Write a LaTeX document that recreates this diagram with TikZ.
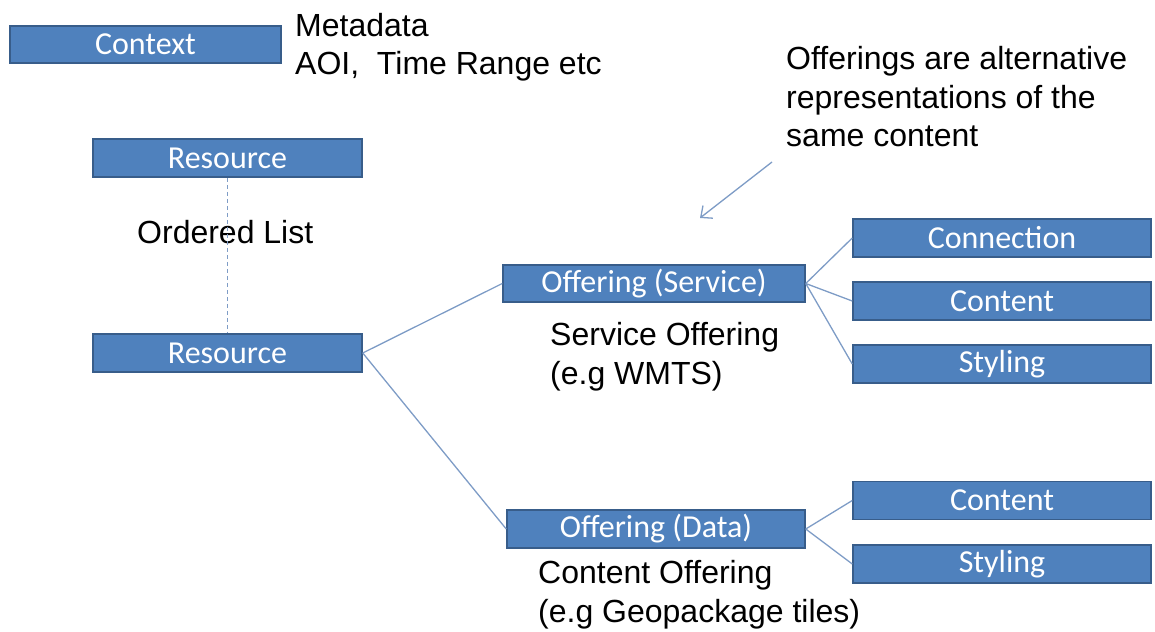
\documentclass[tikz,border=0pt]{standalone}
\usepackage{fontspec}
\setmainfont{Liberation Sans}
\newfontfamily\boxfont{Carlito}
\usetikzlibrary{arrows.meta}
\definecolor{boxfill}{HTML}{4F81BD}
\definecolor{boxline}{HTML}{385D8A}
\definecolor{linkcol}{HTML}{7E9CC6}
\tikzset{
  bluebox/.style={draw=boxline, line width=1.5pt, fill=boxfill, text=white,
    inner sep=0pt, font=\boxfont\fontsize{32}{36}\selectfont},
  notetext/.style={inner sep=0pt, align=left, anchor=base west, text=black,
    font=\fontsize{32}{38.5}\selectfont},
  link/.style={draw=linkcol, line width=1.3pt},
}
\begin{document}
\begin{tikzpicture}[x=1pt,y=-1pt]
\useasboundingbox (0,0) rectangle (1155,631);
% boxes
\node[bluebox, minimum width=271pt, minimum height=37pt] (context) at (145.5,44.5) {Context};
\node[bluebox, minimum width=269pt, minimum height=38pt] (res1) at (227.5,158) {Resource};
\node[bluebox, minimum width=269pt, minimum height=38pt] (res2) at (227.5,353) {Resource};
\node[bluebox, minimum width=302pt, minimum height=37pt] (service) at (654,283.5) {Offering (Service)};
\node[bluebox, minimum width=298pt, minimum height=38pt] (data) at (656,529) {Offering (Data)};
\node[bluebox, minimum width=298pt, minimum height=38pt] (conn) at (1002,238) {Connection};
\node[bluebox, minimum width=298pt, minimum height=38pt] (cont1) at (1002,301) {Content};
\node[bluebox, minimum width=298pt, minimum height=38pt] (styl1) at (1002,364) {Styling};
\node[bluebox, minimum width=298pt, minimum height=38pt] (cont2) at (1002,500.5) {Content};
\node[bluebox, minimum width=298pt, minimum height=38pt] (styl2) at (1002,564) {Styling};
% texts (base = baseline of the last line)
\node[notetext] (meta) at (295,75) {Metadata\\AOI,\ \ Time Range etc};
\node[notetext] (offnote) at (786,147) {Offerings are alternative\\representations of the\\same content};
\node[notetext] (ordered) at (137,243) {Ordered List};
\node[notetext] (servnote) at (550,384) {Service Offering\\(e.g WMTS)};
\node[notetext] (datanote) at (538,622) {Content Offering\\(e.g Geopackage tiles)};
% connectors
\draw[link, dashed, dash pattern=on 4pt off 3pt] (res1.south) -- (res2.north);
\draw[link] (res2.east) -- (service.west);
\draw[link] (res2.east) -- (data.west);
\draw[link] (service.east) -- (conn.west);
\draw[link] (service.east) -- (cont1.west);
\draw[link] (service.east) -- (styl1.west);
\draw[link] (data.east) -- (cont2.west);
\draw[link] (data.east) -- (styl2.west);
\coordinate (arrstart) at (772,162);
\coordinate (arrend) at (700,218);
\draw[link, -{Straight Barb[length=9pt,width=16pt]}] (arrstart) -- (arrend);
\end{tikzpicture}
\end{document}
